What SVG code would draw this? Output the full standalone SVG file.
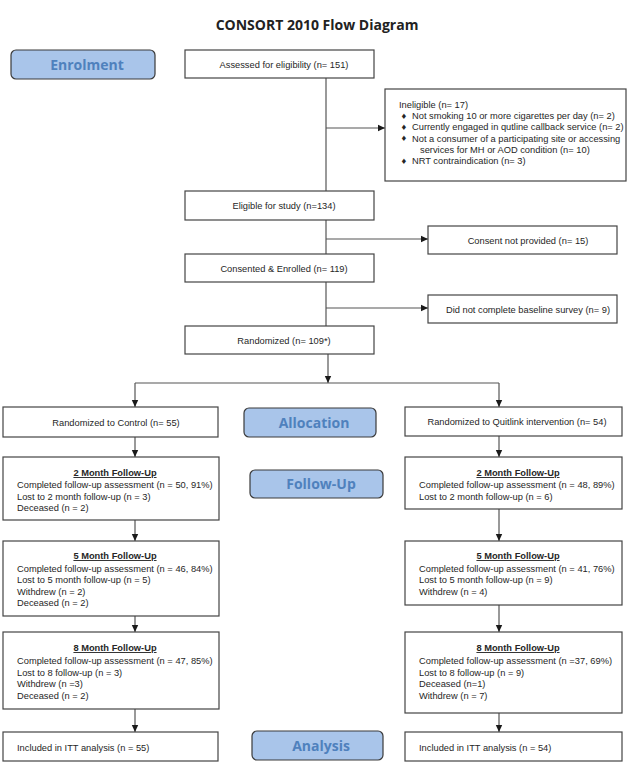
<svg xmlns="http://www.w3.org/2000/svg" width="631" height="764" viewBox="0 0 631 764">
<defs>
<marker id="ah" markerWidth="8" markerHeight="8" refX="7" refY="4" orient="auto" markerUnits="userSpaceOnUse">
<path d="M0,0.8 L7,4 L0,7.2 Z" fill="#1a1a1a"/>
</marker>
<style>
.box{fill:#fff;stroke:#444;stroke-width:1.2}
.phase{fill:#a9c5ea;stroke:#3a3a3a;stroke-width:1.2}
.pt{font-family:"Open Sans","Liberation Sans",sans-serif;font-weight:bold;font-size:14px;fill:#4f81bd;text-anchor:middle}
.t{font-family:"Liberation Sans",Arial,sans-serif;font-size:9.3px;fill:#262626}
.c{text-anchor:middle}
.h{font-weight:bold;text-decoration:underline;text-anchor:middle}
.ln{fill:none;stroke:#555;stroke-width:1.2}
.ar{fill:none;stroke:#555;stroke-width:1.2;marker-end:url(#ah)}
</style>
</defs>
<rect width="631" height="764" fill="#fff"/>
<text x="317" y="30" font-family="'Open Sans','Liberation Sans',sans-serif" font-weight="bold" font-size="14" fill="#222" text-anchor="middle">CONSORT 2010 Flow Diagram</text>

<g id="connectors">
<path class="ln" d="M326,78 V191"/>
<path class="ar" d="M326,128 H385"/>
<path class="ln" d="M326,220 V254"/>
<path class="ar" d="M326,239 H428"/>
<path class="ln" d="M326,282 V326"/>
<path class="ar" d="M326,308 H428"/>
<path class="ar" d="M328,354 V383"/>
<path class="ln" d="M135,383 H499"/>
<path class="ar" d="M135,383 V407"/>
<path class="ar" d="M499,383 V407"/>
<path class="ar" d="M135,437 V457"/>
<path class="ar" d="M135,520 V541"/>
<path class="ar" d="M135,616 V632"/>
<path class="ar" d="M135,709 V732"/>
<path class="ar" d="M499,436 V457"/>
<path class="ar" d="M499,509 V541"/>
<path class="ar" d="M499,605 V632"/>
<path class="ar" d="M499,713 V732"/>
</g>

<g id="enrolment"><rect class="phase" x="11" y="50" width="144" height="29" rx="5"/><text class="pt" x="87" y="70">Enrolment</text></g>
<g id="allocation"><rect class="phase" x="244" y="408" width="132" height="29" rx="5"/><text class="pt" x="314" y="428">Allocation</text></g>
<g id="followup"><rect class="phase" x="250" y="470" width="133" height="28" rx="5"/><text class="pt" x="321" y="489">Follow-Up</text></g>
<g id="analysis"><rect class="phase" x="252" y="731" width="131" height="29" rx="5"/><text class="pt" x="321" y="751">Analysis</text></g>

<g id="assessed"><rect class="box" x="185" y="50" width="189" height="28"/><text class="t c" x="284" y="67.5">Assessed for eligibility (n= 151)</text></g>
<g id="ineligible"><rect class="box" x="385" y="89" width="241" height="92"/>
<text class="t" x="399" y="107.5" font-size="9.6">Ineligible (n= 17)</text>
<text class="t" x="401.5" y="118.5" font-size="7">♦</text><text class="t" x="412" y="119" font-size="9.6">Not smoking 10 or more cigarettes per day (n= 2)</text>
<text class="t" x="401.5" y="129.8" font-size="7">♦</text><text class="t" x="412" y="130.3" font-size="9.6">Currently engaged in qutline callback service (n= 2)</text>
<text class="t" x="401.5" y="141.1" font-size="7">♦</text><text class="t" x="412" y="141.6" font-size="9.6">Not a consumer of a participating site or accessing</text>
<text class="t" x="420" y="152.9" font-size="9.6">services for MH or AOD condition (n= 10)</text>
<text class="t" x="401.5" y="163.7" font-size="7">♦</text><text class="t" x="412" y="164.2" font-size="9.6">NRT contraindication (n= 3)</text>
</g>
<g id="eligible"><rect class="box" x="185" y="191" width="189" height="29"/><text class="t c" x="284" y="209">Eligible for study (n=134)</text></g>
<g id="consent-not"><rect class="box" x="428" y="226" width="189" height="28"/><text class="t c" x="528" y="243.5">Consent not provided (n= 15)</text></g>
<g id="consented"><rect class="box" x="185" y="254" width="189" height="28"/><text class="t c" x="284" y="271.5">Consented &amp; Enrolled (n= 119)</text></g>
<g id="baseline"><rect class="box" x="428" y="295" width="189" height="28"/><text class="t c" x="528" y="312.5">Did not complete baseline survey (n= 9)</text></g>
<g id="randomized"><rect class="box" x="185" y="326" width="189" height="28"/><text class="t c" x="284" y="343.5">Randomized (n= 109*)</text></g>

<g id="control"><rect class="box" x="3" y="407" width="215" height="30"/><text class="t c" x="116" y="425.5">Randomized to Control (n= 55)</text></g>
<g id="quitlink"><rect class="box" x="405" y="407" width="217" height="29"/><text class="t c" x="517" y="425">Randomized to Quitlink intervention (n= 54)</text></g>

<g id="c2"><rect class="box" x="3" y="457" width="216" height="63"/>
<text class="t h" x="115" y="476">2 Month Follow-Up</text>
<text class="t" x="17" y="487.5">Completed follow-up assessment (n = 50, 91%)</text>
<text class="t" x="17" y="499.5">Lost to 2 month follow-up (n = 3)</text>
<text class="t" x="17" y="511">Deceased (n = 2)</text></g>
<g id="q2"><rect class="box" x="405" y="457" width="217" height="52"/>
<text class="t h" x="518" y="476">2 Month Follow-Up</text>
<text class="t" x="419" y="487.5">Completed follow-up assessment (n = 48, 89%)</text>
<text class="t" x="419" y="499.5">Lost to 2 month follow-up (n = 6)</text></g>

<g id="c5"><rect class="box" x="3" y="541" width="216" height="75"/>
<text class="t h" x="115" y="559">5 Month Follow-Up</text>
<text class="t" x="17" y="571.5">Completed follow-up assessment (n = 46, 84%)</text>
<text class="t" x="17" y="583">Lost to 5 month follow-up (n = 5)</text>
<text class="t" x="17" y="594.5">Withdrew (n = 2)</text>
<text class="t" x="17" y="606">Deceased (n = 2)</text></g>
<g id="q5"><rect class="box" x="405" y="541" width="217" height="64"/>
<text class="t h" x="518" y="559">5 Month Follow-Up</text>
<text class="t" x="419" y="571.5">Completed follow-up assessment (n = 41, 76%)</text>
<text class="t" x="419" y="583">Lost to 5 month follow-up (n = 9)</text>
<text class="t" x="419" y="594.5">Withdrew (n = 4)</text></g>

<g id="c8"><rect class="box" x="3" y="632" width="216" height="77"/>
<text class="t h" x="115" y="651">8 Month Follow-Up</text>
<text class="t" x="17" y="664">Completed follow-up assessment (n = 47, 85%)</text>
<text class="t" x="17" y="675.5">Lost to 8 follow-up (n = 3)</text>
<text class="t" x="17" y="687">Withdrew (n =3)</text>
<text class="t" x="17" y="698.5">Deceased (n = 2)</text></g>
<g id="q8"><rect class="box" x="405" y="632" width="217" height="81"/>
<text class="t h" x="518" y="651">8 Month Follow-Up</text>
<text class="t" x="419" y="664">Completed follow-up assessment (n =37, 69%)</text>
<text class="t" x="419" y="675.5">Lost to 8 follow-up (n = 9)</text>
<text class="t" x="419" y="687">Deceased (n=1)</text>
<text class="t" x="419" y="698.5">Withdrew (n = 7)</text></g>

<g id="citt"><rect class="box" x="3" y="732" width="215" height="29"/><text class="t" x="17" y="750.5">Included in ITT analysis (n = 55)</text></g>
<g id="qitt"><rect class="box" x="405" y="732" width="217" height="29"/><text class="t" x="419" y="750.5">Included in ITT analysis (n = 54)</text></g>
</svg>
